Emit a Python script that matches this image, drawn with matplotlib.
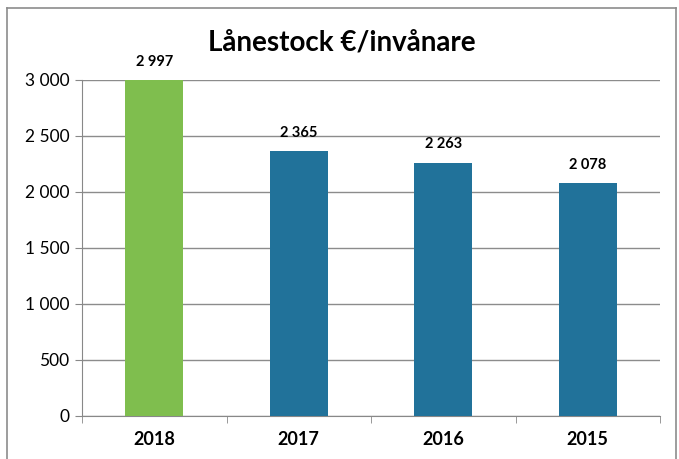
import numpy as np
import matplotlib
matplotlib.use("Agg")
import matplotlib.pyplot as plt
from matplotlib.lines import Line2D

years = ["2018", "2017", "2016", "2015"]
values = [2997, 2365, 2263, 2078]
bar_colors = ["#7fbe4e", "#21729a", "#21729a", "#21729a"]
yticks = [0, 500, 1000, 1500, 2000, 2500, 3000]


def fmt(v):
    return "{:,}".format(v).replace(",", " ")


plt.rcParams["font.family"] = ["Lato", "DejaVu Sans"]

fig = plt.figure(figsize=(6.79, 4.59), dpi=100)
ax = fig.add_axes([82 / 679, 1 - 416 / 459, (660 - 82) / 679, (416 - 80) / 459])

x = np.arange(len(years))
ax.bar(x, values, width=0.4, color=bar_colors, zorder=3)

for xi, v in zip(x, values):
    ax.annotate(fmt(v), (xi, v), xytext=(0, 8), textcoords="offset points",
                ha="center", va="bottom", fontsize=10.5, fontweight="bold")

ax.set_xlim(-0.5, len(years) - 0.5)
ax.set_ylim(0, 3000)
ax.set_yticks(yticks)
ax.set_yticklabels([fmt(v) for v in yticks], fontsize=12.5)
ax.set_xticks(x)
ax.set_xticklabels(years, fontsize=13, fontweight="bold")
ax.set_xticks(np.arange(-0.5, len(years)), minor=True)
ax.tick_params(axis="x", which="major", length=0, pad=11)
ax.tick_params(axis="x", which="minor", length=5, color="#888888", direction="out")
ax.tick_params(axis="y", length=5, color="#888888", direction="out", pad=4)
ax.yaxis.grid(True, color="#8c8c8c", linewidth=1, zorder=0)
for s in ["top", "right"]:
    ax.spines[s].set_visible(False)
for s in ["left", "bottom"]:
    ax.spines[s].set_color("#888888")

fig.text(342 / 679, 1 - 42 / 459, "Lånestock €/invånare", fontsize=20,
         fontweight="bold", ha="center", va="center")

# chart border
bc = "#8c8c8c"
fig.add_artist(Line2D([7 / 679, 7 / 679], [0, 1 - 8 / 459], color=bc, lw=1.2, transform=fig.transFigure))
fig.add_artist(Line2D([676 / 679, 676 / 679], [0, 1 - 8 / 459], color=bc, lw=1.2, transform=fig.transFigure))
fig.add_artist(Line2D([7 / 679, 676 / 679], [1 - 8 / 459, 1 - 8 / 459], color=bc, lw=1.2, transform=fig.transFigure))

fig.savefig("out.png", dpi=100)
